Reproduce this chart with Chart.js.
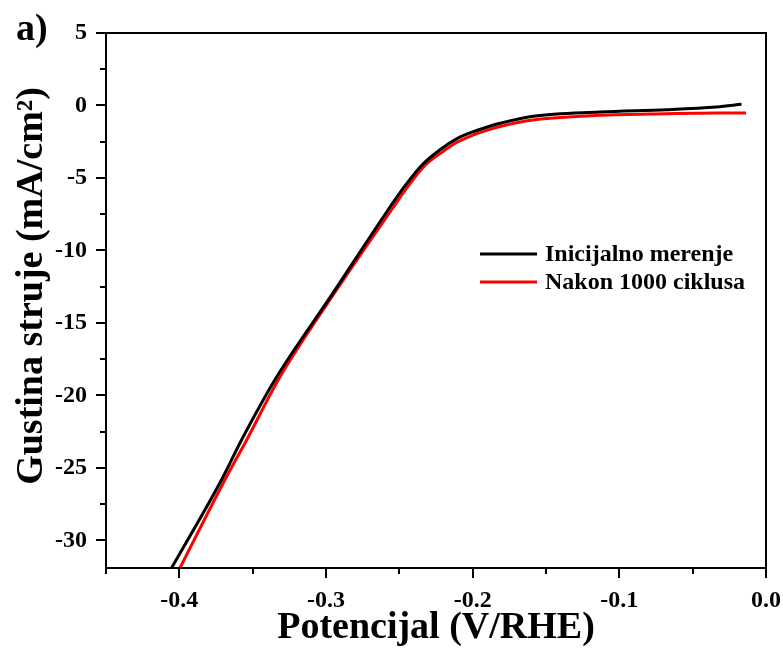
<!DOCTYPE html>
<html>
<head>
<meta charset="utf-8">
<script src="https://cdn.jsdelivr.net/npm/chart.js@4/dist/chart.umd.min.js"></script>
<style>
  html, body { margin: 0; padding: 0; background: #fff; }
  #wrap { width: 783px; height: 649px; }
</style>
</head>
<body>
<div id="wrap"><canvas id="c" width="783" height="649"></canvas></div>
<script>
// Polarization curves: potential (V vs RHE) and current density (mA/cm2)
const potInitial = [-0.4053, -0.3712, -0.3575, -0.3348, -0.296, -0.2576, -0.2462, -0.2347, -0.2223, -0.211, -0.2, -0.19, -0.1814, -0.1587, -0.1133, -0.0678, -0.0337, -0.0167];
const curInitial = [-31.9, -25.81, -23.05, -18.91, -13.05, -7.19, -5.55, -4.12, -3.05, -2.30, -1.82, -1.48, -1.23, -0.74, -0.45, -0.29, -0.10, 0.08];
const potCycled = [-0.3996, -0.3689, -0.354, -0.3325, -0.295, -0.2553, -0.2439, -0.2324, -0.2200, -0.211, -0.2, -0.19, -0.1814, -0.1587, -0.1133, -0.0678, -0.0337, -0.0137];
const curCycled = [-31.9, -25.81, -23.05, -18.91, -13.05, -7.19, -5.55, -4.12, -3.15, -2.55, -2.05, -1.70, -1.45, -1.00, -0.68, -0.57, -0.52, -0.52];

const seriesNames = ['Inicijalno merenje', 'Nakon 1000 ciklusa'];
const seriesColors = ['#000000', '#ff0000'];

const xMajorTicks = [-0.4, -0.3, -0.2, -0.1, 0.0];
const xMinorTicks = [-0.45, -0.35, -0.25, -0.15, -0.05];
const yMajorTicks = [5, 0, -5, -10, -15, -20, -25, -30];
const yMinorTicks = [2.5, -2.5, -7.5, -12.5, -17.5, -22.5, -27.5];

const xRange = [-0.45, 0.0];
const yRange = [-31.9, 5];

const yTitle = 'Gustina struje (mA/cm\u00B2)';
const xTitle = 'Potencijal (V/RHE)';

const FONT = '"Liberation Serif", "Times New Roman", serif';

function toPoints(xs, ys) { return xs.map((x, i) => ({ x: x, y: ys[i] })); }

// Frame, tick marks, vertical axis title, panel label and legend
const decorations = {
  id: 'decorations',
  afterDraw(chart) {
    const ctx = chart.ctx;
    const a = chart.chartArea;
    const xs = chart.scales.x, ys = chart.scales.y;
    ctx.save();
    ctx.strokeStyle = '#000';
    ctx.lineWidth = 2;
    ctx.strokeRect(a.left, a.top, a.right - a.left, a.bottom - a.top);

    ctx.beginPath();
    xMajorTicks.forEach(v => { const p = Math.round(xs.getPixelForValue(v)); ctx.moveTo(p, a.bottom); ctx.lineTo(p, a.bottom + 10); });
    xMinorTicks.forEach(v => { const p = Math.round(xs.getPixelForValue(v)); ctx.moveTo(p, a.bottom); ctx.lineTo(p, a.bottom + 6); });
    yMajorTicks.forEach(v => { const p = Math.round(ys.getPixelForValue(v)); ctx.moveTo(a.left, p); ctx.lineTo(a.left - 10, p); });
    yMinorTicks.forEach(v => { const p = Math.round(ys.getPixelForValue(v)); ctx.moveTo(a.left, p); ctx.lineTo(a.left - 6, p); });
    ctx.stroke();

    ctx.fillStyle = '#000';

    // vertical axis title
    ctx.save();
    ctx.translate(32, 286);
    ctx.rotate(-Math.PI / 2);
    ctx.font = 'bold 38px ' + FONT;
    ctx.textAlign = 'center';
    ctx.textBaseline = 'middle';
    ctx.fillText(yTitle, 0, 0);
    ctx.restore();

    // panel label
    ctx.font = 'bold 38px ' + FONT;
    ctx.textBaseline = 'alphabetic';
    ctx.textAlign = 'left';
    ctx.fillText('a)', 16, 40);

    // legend
    ctx.font = 'bold 24px ' + FONT;
    ctx.textBaseline = 'middle';
    const rows = [254, 282];
    chart.data.datasets.forEach((ds, i) => {
      ctx.strokeStyle = ds.borderColor;
      ctx.lineWidth = 3;
      ctx.beginPath();
      ctx.moveTo(480, rows[i]);
      ctx.lineTo(537, rows[i]);
      ctx.stroke();
      ctx.fillStyle = '#000';
      ctx.fillText(ds.label, 545, rows[i] + 1);
    });
    ctx.restore();
  }
};

new Chart(document.getElementById('c'), {
  type: 'line',
  data: {
    datasets: [
      { label: seriesNames[0], data: toPoints(potInitial, curInitial), borderColor: seriesColors[0], borderWidth: 3, pointRadius: 0, cubicInterpolationMode: 'monotone', fill: false },
      { label: seriesNames[1], data: toPoints(potCycled, curCycled), borderColor: seriesColors[1], borderWidth: 3, pointRadius: 0, cubicInterpolationMode: 'monotone', fill: false }
    ]
  },
  options: {
    responsive: false,
    animation: false,
    events: [],
    layout: { padding: { top: 33, right: 17, left: 0, bottom: 0 } },
    plugins: { legend: { display: false }, tooltip: { enabled: false } },
    scales: {
      x: {
        type: 'linear',
        min: xRange[0], max: xRange[1],
        afterBuildTicks: s => { s.ticks = xMajorTicks.map(v => ({ value: v })); },
        afterFit: s => { s.height = 81; s.paddingLeft = 0; s.paddingRight = 0; },
        grid: { display: false, drawTicks: false },
        border: { display: false },
        ticks: {
          color: '#000',
          padding: 18,
          font: { family: FONT, size: 24, weight: 'bold' },
          callback: v => v.toFixed(1)
        },
        title: {
          display: true,
          text: xTitle,
          color: '#000',
          font: { family: FONT, size: 38, weight: 'bold', lineHeight: 1 },
          padding: { top: 0, bottom: 2 }
        }
      },
      y: {
        type: 'linear',
        min: yRange[0], max: yRange[1],
        afterBuildTicks: s => { s.ticks = yMajorTicks.map(v => ({ value: v })); },
        afterFit: s => { s.width = 106; s.paddingTop = 0; s.paddingBottom = 0; },
        grid: { display: false, drawTicks: false },
        border: { display: false },
        ticks: {
          color: '#000',
          padding: 19,
          font: { family: FONT, size: 24, weight: 'bold' },
          callback: v => String(v)
        },
        title: { display: false }
      }
    }
  },
  plugins: [decorations]
});
</script>
</body>
</html>
